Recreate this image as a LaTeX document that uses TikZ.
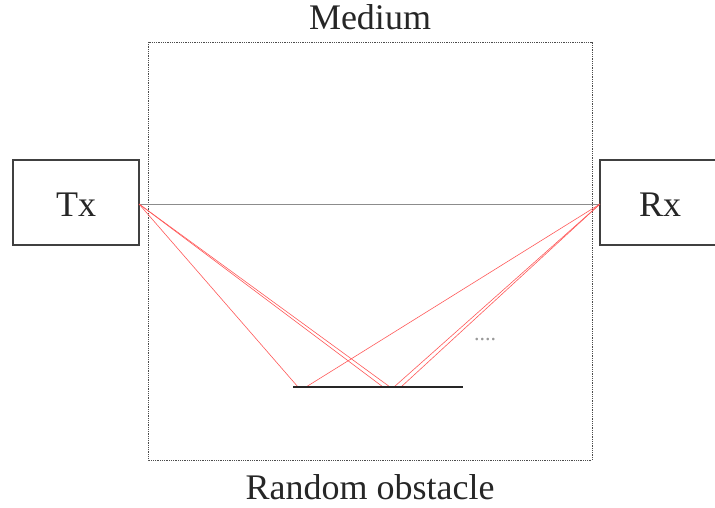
\documentclass[tikz,border=0pt]{standalone}
\usepackage{fontspec}
\setmainfont{Liberation Serif}
\newfontfamily\timesx{Liberation Serif}
\begin{document}
\begin{tikzpicture}[x=1pt,y=-1pt,
  box/.style={draw=black!75,line width=1.2pt},
  lbl/.style={font=\timesx\fontsize{36}{40}\selectfont,text=black!85},
  ray/.style={draw=red!65!white,line width=0.6pt},
  los/.style={draw=black!45,line width=0.8pt},
  medium/.style={draw=black!70,densely dotted,line width=0.8pt}]
\useasboundingbox (0,0) rectangle (715,508);
\draw[medium] (148,42) rectangle (592,460);
\draw[box] (13,160) rectangle (139,245);
\draw[box] (600,160) rectangle (722,245);
\node[lbl] (tx) at (76,205) {Tx};
\node[lbl] (rx) at (660,205) {Rx};
\node[lbl] (med) at (370,17) {Medium};
\node[lbl] (obs) at (370,487) {Random obstacle};
\coordinate (t) at (139,204);
\coordinate (r) at (600,204);
\coordinate (o1) at (298,387);
\coordinate (o2) at (383,387);
\coordinate (o3) at (390,387);
\coordinate (o4) at (306,387);
\coordinate (o5) at (394,387);
\coordinate (o6) at (401,387);
\draw[los] (t) -- (r);
\draw[ray] (t) -- (o1);
\draw[ray] (t) -- (o2);
\draw[ray] (t) -- (o3);
\draw[ray] (r) -- (o4);
\draw[ray] (r) -- (o5);
\draw[ray] (r) -- (o6);
\draw[line width=1.3pt,black!85] (293,387) coordinate (oa) -- (463,387) coordinate (ob);
\node[text=black!40,font=\timesx\fontsize{22}{22}\selectfont] (dots) at (485,340) {....};
\end{tikzpicture}
\end{document}
